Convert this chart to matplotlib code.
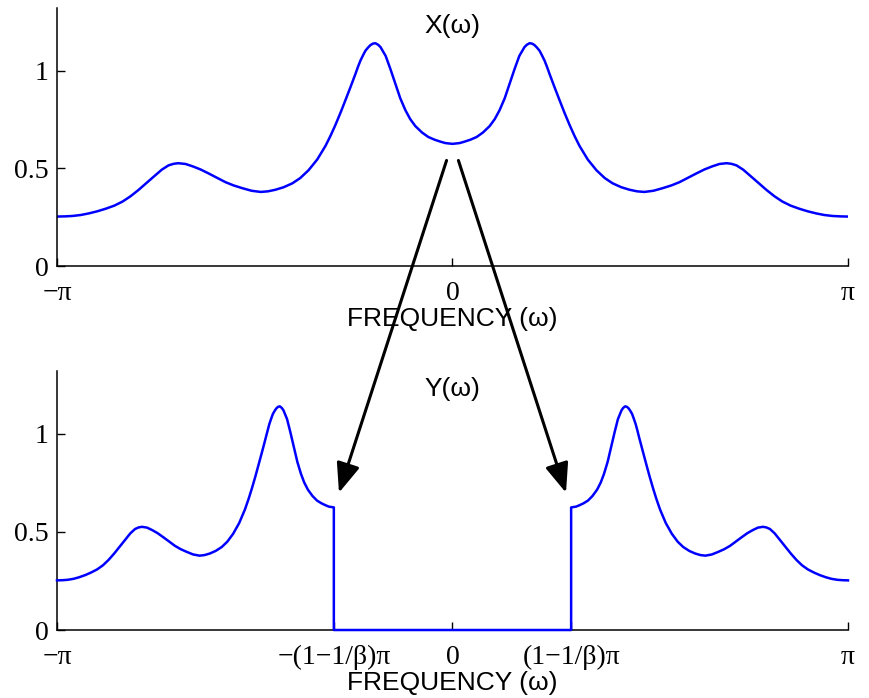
import numpy as np
import matplotlib
matplotlib.use("Agg")
import matplotlib.pyplot as plt
from matplotlib.patches import ConnectionPatch

# frequency in units of pi (right half, spectrum is symmetric)
freq = [0, 0.018, 0.030, 0.045, 0.061, 0.077, 0.094, 0.107, 0.119, 0.132,
        0.144, 0.157, 0.169, 0.182, 0.188, 0.195, 0.201, 0.207, 0.213,
        0.220, 0.226, 0.233, 0.239, 0.245, 0.258, 0.271, 0.283, 0.296,
        0.308, 0.321, 0.342, 0.364, 0.385, 0.405, 0.427, 0.448, 0.467,
        0.485, 0.508, 0.531, 0.553, 0.574, 0.596, 0.617, 0.637, 0.657,
        0.675, 0.693, 0.705, 0.718, 0.735, 0.751, 0.772, 0.794, 0.814,
        0.834, 0.855, 0.877, 0.898, 0.920, 0.940, 0.961, 0.980, 1.0]
mag = [0.625, 0.629, 0.636, 0.646, 0.660, 0.683, 0.716, 0.752, 0.797, 0.858,
       0.930, 1.008, 1.075, 1.120, 1.132, 1.140, 1.138, 1.131, 1.119,
       1.102, 1.079, 1.050, 1.019, 0.985, 0.915, 0.847, 0.785, 0.722,
       0.668, 0.615, 0.545, 0.490, 0.450, 0.423, 0.403, 0.390, 0.382,
       0.379, 0.385, 0.398, 0.412, 0.429, 0.452, 0.474, 0.494, 0.510,
       0.522, 0.526, 0.523, 0.515, 0.493, 0.465, 0.428, 0.389, 0.357,
       0.330, 0.309, 0.293, 0.280, 0.269, 0.261, 0.256, 0.254, 0.253]

cutoff = 0.3  # (1 - 1/beta), in units of pi

top_ticks = [-1, 0, 1]
top_labels = ["\u2212\u03c0", "0", "\u03c0"]
bot_ticks = [-1, -cutoff, 0, cutoff, 1]
bot_labels = ["\u2212\u03c0", "\u2212(1\u22121/\u03b2)\u03c0", "0",
              "(1\u22121/\u03b2)\u03c0", "\u03c0"]
y_ticks = [0, 0.5, 1]
y_labels = ["0", "0.5", "1"]

f = np.array(freq)
m = np.array(mag)

# X(w): mirror the half spectrum
xw = np.concatenate([-f[::-1], f[1:]])
xv = np.concatenate([m[::-1], m[1:]])

# Y(w): X compressed by 1/beta and pushed out to the band edges
g = cutoff + (1 - cutoff) * f
yw = np.concatenate([-g[::-1], [-cutoff, cutoff], g])
yv = np.concatenate([m[::-1], [0, 0], m])

serif = "Liberation Serif"
sans = "Liberation Sans"
fs = 19
tfs = 20
blue = "#0000ff"

fig = plt.figure(figsize=(8.69, 6.98), dpi=100)
ax1 = fig.add_axes([0.0656, 0.6189, 0.9102, 0.3696])
ax2 = fig.add_axes([0.0656, 0.0974, 0.9102, 0.3710])


def style(ax, ticks, labels, title):
    ax.set_xlim(-1, 1)
    ax.set_ylim(0, 1.32)
    for s in ["top", "right"]:
        ax.spines[s].set_visible(False)
    for s in ["left", "bottom"]:
        ax.spines[s].set_linewidth(1.1)
    ax.set_xticks(ticks)
    ax.set_xticklabels(labels, fontfamily=serif, fontsize=tfs)
    ax.set_yticks(y_ticks)
    ax.set_yticklabels(y_labels, fontfamily=serif, fontsize=tfs)
    ax.tick_params(direction="in", length=6, width=1.0, pad=6)
    ax.tick_params(axis="x", pad=11)
    ax.set_xlabel("FREQUENCY (\u03c9)", fontfamily=sans, fontsize=fs)
    ax.xaxis.label.set_va("center")
    ax.xaxis.set_label_coords(0.5, -0.205)
    ax.text(0.5, 0.932, title, transform=ax.transAxes, ha="center",
            va="center", fontfamily=sans, fontsize=fs)


ax1.plot(xw, xv, color=blue, lw=1.8)
ax2.plot(yw, yv, color=blue, lw=1.8, clip_on=False, zorder=5)
style(ax1, top_ticks, top_labels, "X(\u03c9)")
style(ax2, bot_ticks, bot_labels, "Y(\u03c9)")

# arrows from the centre of X(w) down to the band edges of Y(w)
for sx, ex in [(-0.015, -0.287), (0.015, 0.287)]:
    arr = ConnectionPatch(xyA=(sx, 0.54), coordsA=ax1.transData,
                          xyB=(ex, 0.70), coordsB=ax2.transData,
                          arrowstyle="-|>,head_length=0.9,head_width=0.36",
                          mutation_scale=20, lw=2.2, color="black",
                          shrinkA=0, shrinkB=0, zorder=10)
    fig.add_artist(arr)

fig.savefig("out.png", dpi=100)
